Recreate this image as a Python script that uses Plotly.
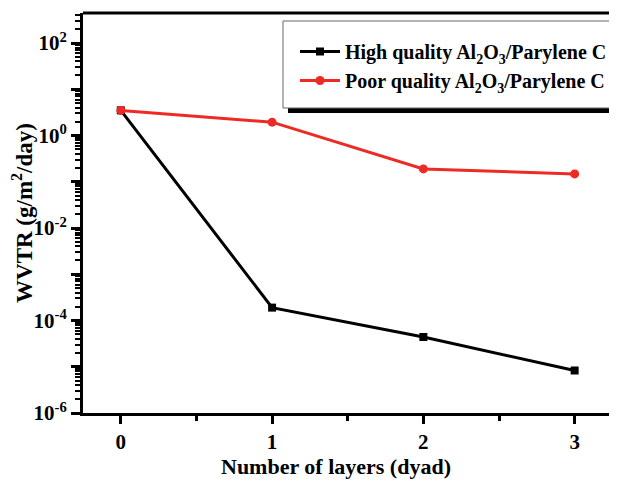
import plotly.graph_objects as go

layers = [0, 1, 2, 3]
high_quality = [3.5, 1.9e-4, 4.4e-5, 8.3e-6]
poor_quality = [3.5, 1.95, 0.19, 0.148]
x_tick_labels = ["0", "1", "2", "3"]
y_decades = [-6, -5, -4, -3, -2, -1, 0, 1, 2]
y_tick_labels = ["10<sup>-6</sup>", "", "10<sup>-4</sup>", "", "10<sup>-2</sup>", "",
                 "10<sup>0</sup>", "", "10<sup>2</sup>"]
x_title = "Number of layers (dyad)"
y_title = "WVTR (g/m<sup>2</sup>/day)"

FONT = "Liberation Serif"
RED = "#ee2a24"

fig = go.Figure()
fig.add_trace(go.Scatter(
    x=layers, y=high_quality, mode="lines+markers",
    name="High quality Al<sub>2</sub>O<sub>3</sub>/Parylene C",
    line=dict(color="black", width=3),
    marker=dict(symbol="square", size=8, color="black"),
))
fig.add_trace(go.Scatter(
    x=layers, y=poor_quality, mode="lines+markers",
    name="Poor quality Al<sub>2</sub>O<sub>3</sub>/Parylene C",
    line=dict(color=RED, width=3),
    marker=dict(symbol="circle", size=9, color=RED),
))

minor_vals = [10.0 ** d * k for d in range(-6, 3) for k in range(2, 10)]

# page body has an 8px margin; plot area on screen: x 83..617, y 13..413
def px(xp):
    return (xp - 83) / 534.0

def py(yp):
    return (413 - yp) / 400.0

fig.update_layout(
    width=609, height=473,
    margin=dict(l=75, r=0, t=5, b=68),
    paper_bgcolor="white", plot_bgcolor="white",
    font=dict(family=FONT, color="black", size=19, weight="bold"),
    showlegend=True,
    legend=dict(
        x=px(612), y=py(66), xanchor="right", yanchor="middle",
        bgcolor="rgba(0,0,0,0)", borderwidth=0,
        font=dict(family=FONT, size=20, color="black", weight="bold"),
        itemwidth=40, tracegroupgap=0,
    ),
    xaxis=dict(
        range=[-0.25, 3.28], tickmode="array", tickvals=layers, ticktext=x_tick_labels,
        ticks="outside", ticklen=8, tickwidth=3, tickcolor="black",
        showline=True, linewidth=3, linecolor="black", mirror=False,
        showgrid=False, zeroline=False, automargin=True,
        tickfont=dict(family=FONT, size=21, color="black", weight="bold"),
        minor=dict(tickmode="array", tickvals=[0.5, 1.5, 2.5], ticks="outside",
                   ticklen=5, tickwidth=3, tickcolor="black", showgrid=False),
    ),
    yaxis=dict(
        type="log", range=[-6, 2.65], tickmode="array",
        tickvals=[10.0 ** d for d in y_decades], ticktext=y_tick_labels,
        ticks="outside", ticklen=9, tickwidth=3, tickcolor="black",
        showline=True, linewidth=3, linecolor="black",
        showgrid=False, zeroline=False, automargin=True,
        tickfont=dict(family=FONT, size=21, color="black", weight="bold"),
        minor=dict(tickmode="array", tickvals=minor_vals, ticks="outside",
                   ticklen=5, tickwidth=2, tickcolor="black", showgrid=False),
        title=dict(text=y_title, font=dict(family=FONT, size=23, weight="bold"), standoff=3),
    ),
)

fig.add_annotation(
    text=x_title, xref="paper", yref="paper", x=px(336), y=py(466),
    xanchor="center", yanchor="middle", showarrow=False,
    font=dict(family=FONT, size=22, color="black", weight="bold"),
)

# top frame line
fig.add_shape(type="line", xref="paper", yref="paper", x0=0, x1=1, y0=1, y1=1,
              line=dict(color="black", width=3))
# legend shadow and box
fig.add_shape(type="rect", xref="paper", yref="paper",
              x0=px(288), x1=px(625), y0=py(113), y1=py(26),
              fillcolor="black", line=dict(width=0))
fig.add_shape(type="rect", xref="paper", yref="paper",
              x0=px(283), x1=px(614), y0=py(108), y1=py(21),
              fillcolor="white", line=dict(color="#666", width=1))

fig.write_html("out.html")
